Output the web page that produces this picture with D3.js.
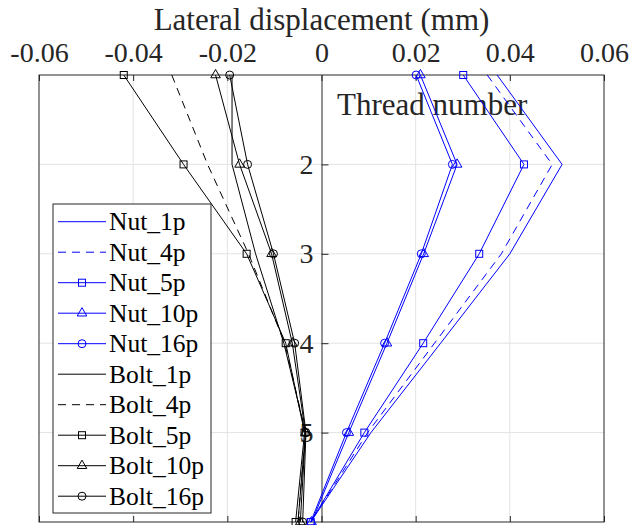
<!DOCTYPE html>
<html>
<head>
<meta charset="utf-8">
<script src="https://cdn.jsdelivr.net/npm/d3@7"></script>
<style>
  body { margin: 0; background: #fff; }
  svg { display: block; }
  svg text { font-family: 'Liberation Serif', 'Times New Roman', serif; }
</style>
</head>
<body>
<svg id="chart" width="630" height="525"></svg>
<script>
// thread number (1 = top) and lateral displacement (mm)
const threads = [1, 2, 3, 4, 5, 6];
const nut1p = [0.0373, 0.0511, 0.0400, 0.0253, 0.0105, -0.0023];
const nut4p = [0.0352, 0.0490, 0.0382, 0.0240, 0.0098, -0.0023];
const nut5p = [0.0301, 0.0430, 0.0335, 0.0216, 0.0091, -0.0023];
const nut10p = [0.0210, 0.0288, 0.0217, 0.0139, 0.0058, -0.0021];
const nut16p = [0.0201, 0.0278, 0.0212, 0.0134, 0.0053, -0.0023];
const bolt1p = [-0.0190, -0.0190, -0.0140, -0.0080, -0.0034, -0.0050];
const bolt4p = [-0.0318, -0.0242, -0.0155, -0.0078, -0.0034, -0.0050];
const bolt5p = [-0.0420, -0.0293, -0.0159, -0.0076, -0.0036, -0.0055];
const bolt10p = [-0.0225, -0.0174, -0.0106, -0.0062, -0.0034, -0.0045];
const bolt16p = [-0.0195, -0.0157, -0.0102, -0.0057, -0.0033, -0.0040];

const xTicks = [-0.06, -0.04, -0.02, 0, 0.02, 0.04, 0.06];
const yTicks = [2, 3, 4, 5];

const series = [
  { name: 'Nut_1p', values: nut1p, color: '#0000ff', dash: null, marker: null },
  { name: 'Nut_4p', values: nut4p, color: '#0000ff', dash: '8,6', marker: null },
  { name: 'Nut_5p', values: nut5p, color: '#0000ff', dash: null, marker: 'square' },
  { name: 'Nut_10p', values: nut10p, color: '#0000ff', dash: null, marker: 'triangle' },
  { name: 'Nut_16p', values: nut16p, color: '#0000ff', dash: null, marker: 'circle' },
  { name: 'Bolt_1p', values: bolt1p, color: '#000000', dash: null, marker: null },
  { name: 'Bolt_4p', values: bolt4p, color: '#000000', dash: '8,6', marker: null },
  { name: 'Bolt_5p', values: bolt5p, color: '#000000', dash: null, marker: 'square' },
  { name: 'Bolt_10p', values: bolt10p, color: '#000000', dash: null, marker: 'triangle' },
  { name: 'Bolt_16p', values: bolt16p, color: '#000000', dash: null, marker: 'circle' }
];

const svg = d3.select('#chart');
const box = { left: 39, right: 604, top: 75, bottom: 522 };
const axisColor = '#262626';
const serif = "'Liberation Serif', 'Times New Roman', serif";

const x = d3.scaleLinear().domain([-0.06, 0.06]).range([box.left, box.right]);
const y = d3.scaleLinear().domain([1, 6]).range([box.top, box.bottom]);

// grid
const grid = svg.append('g').attr('stroke', '#e3e3e3').attr('stroke-width', 1);
grid.selectAll('.gx')
  .data(xTicks.filter(d => d !== 0 && Math.abs(d) < 0.06))
  .enter().append('line')
  .attr('x1', d => x(d)).attr('x2', d => x(d))
  .attr('y1', box.top).attr('y2', box.bottom);
grid.selectAll('.gy')
  .data(yTicks)
  .enter().append('line')
  .attr('x1', box.left).attr('x2', box.right)
  .attr('y1', d => y(d)).attr('y2', d => y(d));

// top axis with labels
const fmt = d => (d === 0 ? '0' : d.toFixed(2));
const xTop = svg.append('g')
  .attr('transform', `translate(0,${box.top})`)
  .call(d3.axisTop(x).tickValues(xTicks).tickFormat(fmt).tickSizeInner(-6).tickSizeOuter(0).tickPadding(13));
xTop.select('.domain').remove();
xTop.selectAll('line').attr('stroke', axisColor);
xTop.selectAll('text').attr('fill', axisColor).attr('font-size', 28).style('font-family', serif);

// bottom ticks, no labels
const xBot = svg.append('g')
  .attr('transform', `translate(0,${box.bottom})`)
  .call(d3.axisBottom(x).tickValues(xTicks).tickFormat('').tickSizeInner(-6).tickSizeOuter(0));
xBot.select('.domain').remove();
xBot.selectAll('line').attr('stroke', axisColor);

// y axis at x = 0
const yAx = svg.append('g')
  .attr('transform', `translate(${x(0)},0)`)
  .call(d3.axisLeft(y).tickValues(yTicks).tickFormat(d3.format('d')).tickSizeInner(-7).tickSizeOuter(0).tickPadding(8));
yAx.select('.domain').attr('stroke', axisColor);
yAx.selectAll('line').attr('stroke', axisColor);
yAx.selectAll('text').attr('fill', axisColor).attr('font-size', 28).style('font-family', serif);

// frame
svg.append('rect')
  .attr('x', box.left).attr('y', box.top)
  .attr('width', box.right - box.left).attr('height', box.bottom - box.top)
  .attr('fill', 'none').attr('stroke', axisColor).attr('stroke-width', 1);

// labels
svg.append('text')
  .attr('x', (box.left + box.right) / 2).attr('y', 30)
  .attr('text-anchor', 'middle')
  .attr('font-size', 31).attr('fill', axisColor)
  .style('font-family', serif)
  .text('Lateral displacement (mm)');
svg.append('text')
  .attr('x', 337).attr('y', 115)
  .attr('font-size', 31).attr('fill', axisColor)
  .style('font-family', serif)
  .text('Thread number');

function drawMarker(g, type, cx, cy, color) {
  if (type === 'square') {
    g.append('rect').attr('x', cx - 3.5).attr('y', cy - 3.5).attr('width', 7).attr('height', 7)
      .attr('fill', 'none').attr('stroke', color);
  } else if (type === 'circle') {
    g.append('circle').attr('cx', cx).attr('cy', cy).attr('r', 4)
      .attr('fill', 'none').attr('stroke', color);
  } else if (type === 'triangle') {
    g.append('path').attr('d', d3.symbol(d3.symbolTriangle, 40)())
      .attr('transform', `translate(${cx},${cy})`)
      .attr('fill', 'none').attr('stroke', color);
  }
}

// lines
const line = d3.line().x(d => x(d[1])).y(d => y(d[0]));
const plot = svg.append('g');
series.forEach(s => {
  const pts = threads.map((t, i) => [t, s.values[i]]);
  plot.append('path')
    .datum(pts)
    .attr('fill', 'none')
    .attr('stroke', s.color)
    .attr('stroke-width', 1)
    .attr('stroke-dasharray', s.dash)
    .attr('d', line);
  if (s.marker) {
    pts.forEach(p => drawMarker(plot, s.marker, x(p[1]), y(p[0]), s.color));
  }
});

// legend
const lg = svg.append('g');
lg.append('rect')
  .attr('x', 53).attr('y', 204).attr('width', 158).attr('height', 309)
  .attr('fill', '#fff').attr('stroke', axisColor).attr('stroke-width', 1);
series.forEach((s, i) => {
  const ry = 221.7 + i * 30.5;
  lg.append('line')
    .attr('x1', 58).attr('x2', 106).attr('y1', ry).attr('y2', ry)
    .attr('stroke', s.color).attr('stroke-width', 1)
    .attr('stroke-dasharray', s.dash);
  if (s.marker) drawMarker(lg, s.marker, 82, ry, s.color);
  lg.append('text')
    .attr('x', 109).attr('y', ry + 8.5)
    .attr('font-size', 25.5).attr('fill', '#000')
    .style('font-family', serif)
    .text(s.name);
});
</script>
</body>
</html>
